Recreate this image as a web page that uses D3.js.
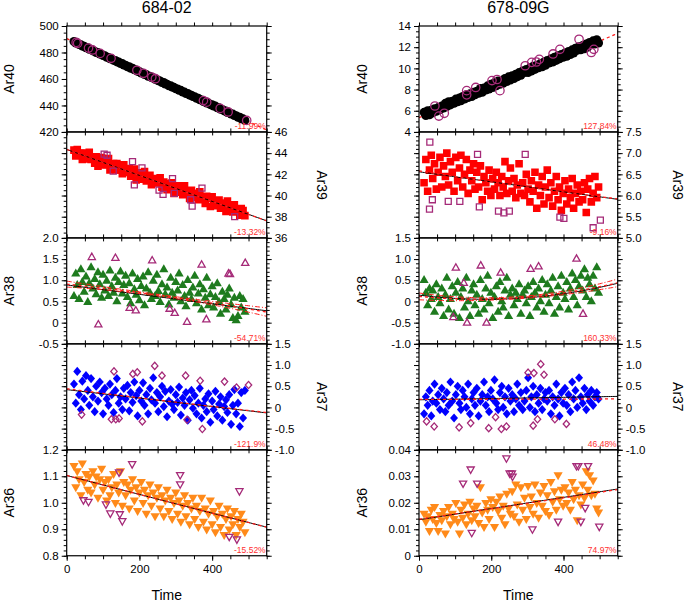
<!DOCTYPE html>
<html><head><meta charset="utf-8">
<script src="https://cdn.jsdelivr.net/npm/d3@7/dist/d3.min.js"></script>
<style>body{margin:0;background:#fff}</style>
</head><body>
<svg id="chart" width="685" height="602"></svg>
<script>
// ---------------- DATA ----------------
const samples = ["684-02", "678-09G"];
const isotopes = ["Ar40", "Ar39", "Ar38", "Ar37", "Ar36"];

const timesA = [20,25,29,34,39,43,48,53,58,62,67,72,77,81,86,91,96,100,105,110,115,119,124,129,134,138,143,148,153,157,162,167,172,176,181,186,191,195,200,205,210,214,219,224,229,233,238,243,248,252,257,262,267,271,276,281,286,290,295,300,305,309,314,319,324,328,333,338,343,347,352,357,362,366,371,376,381,385,390,395,400,404,409,414,419,423,428,433,438,442,447,452,457,461,466,471,476,480,485,490];
const timesB = [14,19,24,29,34,38,43,48,53,58,63,68,73,77,82,87,92,97,102,107,112,116,121,126,131,136,141,146,151,155,160,165,170,175,180,185,190,194,199,204,209,214,219,224,229,233,238,243,248,253,258,263,268,272,277,282,287,292,297,302,307,311,316,321,326,331,336,341,346,350,355,360,365,370,375,380,385,389,394,399,404,409,414,419,424,428,433,438,443,448,453,458,463,467,472,477,482,487,492,497];

// 684-02
const ar40A = [488.3,487.1,487.3,486.0,485.9,484.8,484.7,483.6,483.5,482.4,482.5,481.2,481.0,480.0,479.9,478.8,478.7,477.7,477.6,476.4,476.3,475.3,475.2,474.0,474.0,472.9,472.8,471.6,471.6,470.5,470.4,469.2,469.2,468.1,468.1,466.9,466.8,465.7,465.6,464.5,464.4,463.4,463.3,462.1,462.0,461.0,460.9,459.7,459.6,458.6,458.5,457.3,457.3,456.2,456.1,454.9,454.9,453.8,453.7,452.6,452.5,451.4,451.4,450.2,450.1,449.0,449.0,447.8,447.8,446.7,446.6,445.4,445.4,444.3,444.2,443.0,443.0,441.9,441.8,440.6,440.6,439.5,439.5,438.2,438.2,437.1,437.0,435.9,435.8,434.7,434.6,433.5,433.5,432.4,432.3,431.1,431.1,430.0,429.9,428.8];
const ar39A = [44.28,43.74,44.35,43.87,43.99,43.40,44.00,43.70,43.46,44.07,43.41,43.53,43.05,43.66,42.76,43.41,43.59,42.88,43.18,42.94,43.48,42.41,42.83,43.01,42.41,43.02,42.42,42.60,42.05,42.91,42.48,42.18,42.54,41.83,42.13,42.49,41.47,42.14,41.84,42.08,41.54,42.27,41.37,41.66,41.90,41.01,41.55,41.19,41.61,41.20,41.68,40.78,41.26,41.03,40.55,41.14,40.72,41.21,40.19,40.73,40.91,40.32,40.62,40.08,40.92,40.27,40.45,39.73,40.50,40.10,39.85,40.21,39.61,40.34,39.68,39.80,39.26,39.93,39.75,38.97,39.87,39.34,39.48,39.03,39.57,38.80,39.10,39.28,38.50,39.47,38.69,38.93,38.45,39.12,38.52,38.64,38.15,38.77,38.58,38.10];
const ar38A = [0.62,1.15,0.88,0.55,1.25,0.95,0.72,1.08,0.48,0.92,1.30,0.80,1.02,0.66,1.18,0.90,0.58,1.12,0.75,0.98,0.62,1.22,0.85,0.70,1.05,0.50,0.95,1.20,0.68,0.88,1.10,0.60,0.92,0.45,1.15,0.78,0.65,1.02,0.52,0.86,1.08,0.40,0.80,1.18,0.70,0.55,0.98,0.62,1.12,0.74,0.48,0.90,1.25,0.66,0.82,0.42,1.05,0.70,0.58,0.95,0.75,1.15,0.50,0.88,0.62,0.38,1.00,0.70,0.55,0.82,1.10,0.45,0.68,0.90,0.30,0.78,0.58,1.05,0.40,0.66,0.85,0.35,0.60,0.92,0.48,0.20,0.72,0.55,0.30,0.65,0.80,0.42,0.10,0.58,0.05,0.15,0.62,0.35,0.55,0.25];
const ar37A = [0.55,0.10,0.85,0.30,-0.05,0.62,0.20,0.75,0.40,0.05,0.68,0.25,-0.10,0.50,0.15,0.60,0.35,-0.15,0.45,0.20,0.05,0.55,0.30,-0.12,0.40,0.68,0.10,0.25,-0.05,0.45,0.20,0.52,-0.08,0.35,0.12,0.60,0.28,-0.20,0.40,0.15,0.58,0.05,0.30,-0.15,0.45,0.18,0.70,0.10,0.35,-0.10,0.25,0.50,0.02,0.38,-0.22,0.15,0.42,0.08,-0.05,0.30,0.12,0.48,-0.18,0.22,0.05,0.35,-0.30,0.18,0.40,-0.02,0.28,-0.15,0.10,0.45,-0.25,0.05,0.20,-0.10,0.32,-0.35,0.15,-0.05,0.38,-0.20,0.08,0.25,-0.30,0.02,0.18,-0.12,0.30,-0.40,0.05,0.42,-0.15,0.10,-0.45,0.35,-0.25,0.40];
const ar36A = [1.14,1.06,1.12,1.09,1.03,1.15,1.08,1.11,1.05,1.10,1.04,1.12,1.07,1.10,1.02,1.09,1.13,1.05,1.08,1.01,1.09,1.03,1.06,1.11,1.00,1.07,1.04,1.12,0.99,1.08,1.03,1.07,0.98,1.05,1.09,1.01,1.06,0.97,1.04,1.08,1.00,1.05,0.96,1.03,1.07,0.99,1.04,0.95,1.02,1.06,0.98,1.03,0.95,1.01,1.05,0.97,1.02,0.94,1.00,1.04,0.96,1.01,0.93,0.99,1.03,0.95,1.00,0.92,0.98,1.02,0.94,0.99,0.91,0.97,1.02,0.93,0.98,0.90,0.96,1.01,0.92,0.97,0.89,0.95,0.99,0.91,0.96,0.88,0.94,0.98,0.90,0.95,0.92,0.97,0.88,0.94,0.91,0.96,0.93,0.89];

// 678-09G
const ar40B = [5.85,5.55,6.00,5.62,6.05,5.80,6.20,5.95,6.30,6.10,6.45,6.25,6.70,6.40,6.85,6.55,6.90,6.70,7.10,6.85,7.20,6.95,7.35,7.10,7.50,7.25,7.60,7.35,7.75,7.50,7.85,7.65,8.10,7.75,8.15,7.95,8.35,8.05,8.50,8.20,8.65,8.35,8.80,8.50,8.80,8.60,9.05,8.75,9.20,8.90,9.30,9.05,9.45,9.20,9.60,9.35,9.75,9.60,9.90,9.60,10.05,9.75,10.20,9.90,10.30,10.05,10.45,10.15,10.60,10.30,10.75,10.50,10.90,10.60,11.05,10.75,11.20,10.90,11.30,11.05,11.45,11.15,11.60,11.30,11.75,11.45,11.90,11.70,12.05,11.75,12.15,11.85,12.30,12.00,12.45,12.25,12.60,12.30,12.70,12.40];
const ar39B = [6.30,6.85,6.10,6.60,6.95,6.40,6.75,6.15,6.55,6.90,6.20,6.70,6.45,7.00,6.25,6.80,6.55,6.10,6.90,6.35,6.65,6.95,6.20,6.50,6.85,6.05,6.60,6.35,6.75,6.15,6.55,6.20,6.70,5.90,6.45,6.30,6.10,6.60,6.00,6.40,6.15,6.55,6.30,6.00,6.45,6.20,6.80,6.05,6.35,6.65,6.10,6.40,5.95,6.25,6.75,6.05,6.30,6.00,6.50,6.15,5.85,6.35,6.10,6.55,5.70,6.25,6.00,6.45,5.80,6.20,6.60,5.95,6.30,5.75,6.10,6.45,5.90,6.20,5.65,6.05,6.35,5.80,6.15,5.95,6.40,5.70,6.05,6.25,5.85,6.10,5.90,6.30,5.60,6.15,6.40,5.85,6.05,6.45,5.95,6.20];
const ar38B = [0.50,0.20,-0.10,0.30,0.05,0.25,-0.25,0.40,0.10,-0.05,0.30,-0.35,0.15,0.55,-0.20,0.05,0.35,-0.30,0.20,0.45,-0.40,0.10,0.30,-0.15,0.55,0.00,-0.35,0.25,0.40,-0.10,0.15,-0.30,0.50,0.05,-0.20,0.30,0.60,-0.05,0.20,-0.40,0.10,0.35,-0.25,0.45,0.00,-0.15,0.25,0.55,-0.35,0.15,0.30,-0.10,0.20,0.05,0.40,-0.30,0.15,0.25,-0.05,0.35,-0.35,0.10,0.45,0.20,-0.15,0.30,0.00,0.50,-0.25,0.15,0.40,-0.05,0.25,0.55,-0.30,0.10,0.35,-0.15,0.60,0.20,0.05,0.45,-0.20,0.30,0.65,0.10,0.50,-0.10,0.35,0.60,0.25,0.75,0.10,0.55,0.40,0.00,0.60,0.30,0.80,0.20];
const ar37B = [-0.15,0.25,0.05,0.40,-0.20,0.15,0.55,0.10,0.30,-0.05,0.45,0.20,-0.10,0.35,0.05,0.60,0.15,-0.25,0.30,0.50,0.10,-0.05,0.40,0.25,0.00,0.55,-0.15,0.20,0.35,0.05,0.45,-0.20,0.15,0.30,0.60,0.05,0.25,-0.10,0.40,0.20,0.65,0.10,-0.05,0.35,0.50,0.00,0.25,-0.15,0.45,0.15,0.30,-0.10,0.20,0.55,0.05,0.35,-0.05,0.15,0.40,0.70,0.00,0.25,0.50,-0.10,0.30,0.10,0.45,-0.05,0.20,0.35,0.15,0.40,-0.15,0.25,0.05,0.55,0.20,-0.20,0.35,0.10,0.45,0.05,0.30,-0.10,0.60,0.20,0.40,0.00,0.70,0.25,0.10,0.45,-0.05,0.30,0.15,0.40,0.05,0.25,0.35,0.20];
const ar36B = [0.0160,0.0130,0.0150,0.0095,0.0175,0.0140,0.0185,0.0125,0.0095,0.0155,0.0135,0.0170,0.0085,0.0150,0.0185,0.0120,0.0160,0.0140,0.0200,0.0130,0.0085,0.0175,0.0145,0.0195,0.0120,0.0160,0.0205,0.0135,0.0180,0.0150,0.0190,0.0125,0.0260,0.0165,0.0110,0.0200,0.0175,0.0140,0.0215,0.0185,0.0110,0.0205,0.0170,0.0225,0.0145,0.0190,0.0120,0.0235,0.0180,0.0160,0.0245,0.0150,0.0270,0.0195,0.0130,0.0260,0.0175,0.0220,0.0140,0.0265,0.0185,0.0225,0.0160,0.0270,0.0200,0.0145,0.0240,0.0190,0.0265,0.0170,0.0230,0.0155,0.0280,0.0205,0.0245,0.0175,0.0305,0.0215,0.0250,0.0190,0.0260,0.0200,0.0240,0.0175,0.0280,0.0215,0.0250,0.0135,0.0230,0.0195,0.0270,0.0220,0.0320,0.0250,0.0305,0.0230,0.0285,0.0235,0.0180,0.0165];

// rejected (open) points: times and values
const out40A_t = [26,30,60,71,92,122,193,211,234,244,376,385,422,444,495];
const out40A_v = [487.6,486.9,483.3,481.9,479.3,475.6,466.6,464.3,461.4,460.2,443.7,442.5,437.8,435.1,428.7];
const out39A_t = [103,111,128,181,186,207,254,265,291,296,341,345,372,462];
const out39A_v = [43.9,43.8,42.3,43.2,41.0,42.6,40.5,40.1,41.6,40.2,39.6,39.0,40.7,38.0];
const out38A_t = [69,87,134,173,190,235,283,297,331,371,384,445,449,491];
const out38A_v = [1.54,-0.05,1.52,0.34,0.28,1.46,0.32,0.22,0.01,1.36,0.07,1.15,1.14,1.40];
const out37A_t = [41,123,130,135,144,182,194,208,242,262,327,331,367,373,434,467,500];
const out37A_v = [-0.17,-0.28,0.85,-0.28,-0.26,0.79,0.83,-0.33,0.98,0.75,0.75,-0.29,0.63,-0.51,0.61,0.47,0.53];
const out36A_t = [46,60,108,120,144,146,153,180,312,312,447,468,475];
const out36A_v = [1.011,1.005,0.995,0.961,1.116,0.958,0.932,1.147,1.106,1.071,0.873,0.863,1.045];

const out40B_t = [44,55,70,132,132,157,202,216,224,294,312,325,333,371,390,443,477,484];
const out40B_v = [6.45,5.5,5.76,7.9,7.5,8.2,8.85,8.95,7.9,10.25,10.57,10.6,10.85,11.36,11.8,12.75,11.5,11.8];
const out39B_t = [30,29,37,81,113,162,167,220,235,250,294,390,401,482,502];
const out39B_v = [7.26,5.68,5.90,5.86,5.86,6.97,5.73,5.63,5.59,5.63,6.97,5.49,5.46,5.24,5.42];
const out38B_t = [95,102,124,133,171,187,226,309,331,436,454];
const out38B_v = [-0.38,0.79,0.43,-0.51,0.84,-0.51,0.67,0.76,0.82,1.00,-0.30];
const out37B_t = [21,42,111,143,193,212,228,242,302,316,318,328,337,346,376,408];
const out37B_v = [-0.33,-0.45,-0.47,-0.37,-0.49,-0.23,-0.51,-0.45,0.82,-0.43,0.81,-0.28,1.02,0.77,-0.28,-0.39];
const out36B_t = [122,143,146,161,242,251,257,259,314,385,436,441,448,460,468,499];
const out36B_v = [0.0274,0.0327,0.0088,0.0274,0.0369,0.0312,0.0312,0.0300,0.0101,0.0130,0.0340,0.0340,0.0130,0.0182,0.0340,0.0111];

// fitted curves: values at time 0, 275, 550
const fitBlackA = [null,[44.35,40.98,37.61],[0.89,0.585,0.28],[0.42,0.145,-0.13],[1.103,1.005,0.908]];
const fitRedA   = [[490.5,456.0,421.5],[44.35,40.98,37.61],[0.91,0.62,0.25],[0.44,0.15,-0.12],[1.103,1.005,0.908]];
const bandA     = [null,null,[0.07,0.02,0.10],null,null];
const fitBlackB = [null,[6.56,6.235,5.91],[0.15,0.074,0.43],[0.18,0.22,0.26],[0.0136,0.0194,0.0252]];
const fitRedB   = [[5.35,9.33,13.3],[6.58,6.23,5.92],[0.12,0.09,0.44],[0.19,0.195,0.20],[0.0138,0.0193,0.0250]];
const bandB     = [null,null,[0.08,0.025,0.09],null,null];

const pctA = ["-11.99%","-13.32%","-54.71%","-121.9%","-15.52%"];
const pctB = ["127.84%","-9.16%","160.33%","46.48%","74.97%"];

const yDomA = [[420,500],[36,46],[-0.5,2.0],[-1.0,1.5],[0.8,1.2]];
const yTicksA = [[420,440,460,480,500],[36,38,40,42,44,46],[-0.5,0,0.5,1,1.5,2],[-1,-0.5,0,0.5,1,1.5],[0.8,0.9,1.0,1.1,1.2]];
const yLabelsA = [["420","440","460","480","500"],["36","38","40","42","44","46"],["-0.5","0","0.5","1.0","1.5","2.0"],["-1.0","-0.5","0","0.5","1.0","1.5"],["0.8","0.9","1.0","1.1","1.2"]];
const yMinorA = [5,0.5,0.1,0.1,0.02];
const yDomB = [[4,14],[5,7.5],[-1,1.5],[-1,1.5],[0,0.04]];
const yTicksB = [[4,6,8,10,12,14],[5,5.5,6,6.5,7,7.5],[-1,-0.5,0,0.5,1,1.5],[-1,-0.5,0,0.5,1,1.5],[0,0.01,0.02,0.03,0.04]];
const yLabelsB = [["4","6","8","10","12","14"],["5.0","5.5","6.0","6.5","7.0","7.5"],["-1.0","-0.5","0","0.5","1.0","1.5"],["-1.0","-0.5","0","0.5","1.0","1.5"],["0","0.01","0.02","0.03","0.04"]];
const yMinorB = [0.5,0.1,0.1,0.1,0.002];

const xTickLabels = [0,200,400];
const timeDomain = [0,550];

// ---------------- DRAWING ----------------
const FONT = "'Liberation Sans', Arial, Helvetica, sans-serif";
const svg = d3.select("#chart");
const colX = [66.7, 419], colW = [200, 198.7];
const top0 = 26, ph = 105.95;
const markKind = ["circle","square","triUp","diamond","triDown"];
const markFill = ["#000000","#ff0000","#1e7b1e","#0000ff","#ff8a1a"];
const OUTC = "#a52a78";
const PCTC = "#ff3030";

function shapePath(kind, filled) {
  if (kind === "square") { const s = filled ? 3.8 : 3; return `M${-s},${-s}h${2*s}v${2*s}h${-2*s}Z`; }
  if (kind === "triUp") { const w = filled ? 4.6 : 3.6, h = filled ? 8 : 6.4; return `M0,${-h*2/3}L${w},${h/3}L${-w},${h/3}Z`; }
  if (kind === "triDown") { const w = filled ? 4.6 : 3.6, h = filled ? 8 : 6.4; return `M0,${h*2/3}L${w},${-h/3}L${-w},${-h/3}Z`; }
  if (kind === "diamond") { const a = filled ? 4.6 : 3.6, b = filled ? 4.0 : 3.2; return `M0,${-a}L${b},0L0,${a}L${-b},0Z`; }
  return null;
}
function quad(v, t) {
  const t0 = 0, t1 = 275, t2 = 550;
  const L0 = (t - t1) * (t - t2) / ((t0 - t1) * (t0 - t2));
  const L1 = (t - t0) * (t - t2) / ((t1 - t0) * (t1 - t2));
  const L2 = (t - t0) * (t - t1) / ((t2 - t0) * (t2 - t1));
  return v[0] * L0 + v[1] * L1 + v[2] * L2;
}

const cols = [
  { times: timesA, series: [ar40A, ar39A, ar38A, ar37A, ar36A],
    outT: [out40A_t, out39A_t, out38A_t, out37A_t, out36A_t], outV: [out40A_v, out39A_v, out38A_v, out37A_v, out36A_v],
    fitB: fitBlackA, fitR: fitRedA, band: bandA, pct: pctA, dom: yDomA, ticks: yTicksA, labels: yLabelsA, minor: yMinorA,
    titleX: 14, rightTitleX: 317 },
  { times: timesB, series: [ar40B, ar39B, ar38B, ar37B, ar36B],
    outT: [out40B_t, out39B_t, out38B_t, out37B_t, out36B_t], outV: [out40B_v, out39B_v, out38B_v, out37B_v, out36B_v],
    fitB: fitBlackB, fitR: fitRedB, band: bandB, pct: pctB, dom: yDomB, ticks: yTicksB, labels: yLabelsB, minor: yMinorB,
    titleX: 367, rightTitleX: 673 }
];

let clipId = 0;
cols.forEach((c, ci) => {
  const x0 = colX[ci], w = colW[ci];
  const x = d3.scaleLinear().domain(timeDomain).range([x0, x0 + w]);

  svg.append("text").attr("x", x0 + w / 2).attr("y", 13).attr("text-anchor", "middle")
    .attr("font-family", FONT).attr("font-size", 16).text(samples[ci]);

  isotopes.forEach((iso, i) => {
    const yt = top0 + ph * i, yb = yt + ph;
    const y = d3.scaleLinear().domain(c.dom[i]).range([yb, yt]);
    const g = svg.append("g");
    const id = "clip" + (clipId++);
    svg.append("clipPath").attr("id", id).append("rect").attr("x", x0).attr("y", yt).attr("width", w).attr("height", ph);

    const lineGen = v => d3.line().x(t => x(t)).y(t => y(quad(v, t)))(d3.range(0, 551, 5));
    const drawFits = () => {
      const lg = g.append("g").attr("clip-path", `url(#${id})`);
      if (c.fitB[i]) lg.append("path").attr("d", lineGen(c.fitB[i])).attr("fill", "none").attr("stroke", "#000").attr("stroke-width", 1);
      lg.append("path").attr("d", lineGen(c.fitR[i])).attr("fill", "none").attr("stroke", "#ff1a1a")
        .attr("stroke-width", 1.3).attr("stroke-dasharray", "3,3");
      if (c.band[i]) {
        [1, -1].forEach(sgn => {
          const d = d3.line().x(t => x(t)).y(t => y(quad(c.fitR[i], t) + sgn * quad(c.band[i], t)))(d3.range(0, 551, 5));
          lg.append("path").attr("d", d).attr("fill", "none").attr("stroke", "#ff1a1a")
            .attr("stroke-width", 1).attr("stroke-dasharray", "5,2,1,2");
        });
      }
    };

    if (i === 0) drawFits();

    const pts = c.times.map((t, k) => [t, c.series[i][k]]).filter(p => p[1] !== undefined);
    const kind = markKind[i];
    const pg = g.append("g").attr("clip-path", `url(#${id})`);
    if (kind === "circle") {
      pg.selectAll("circle").data(pts).join("circle").attr("cx", d => x(d[0])).attr("cy", d => y(d[1]))
        .attr("r", 4.5).attr("fill", markFill[i]);
    } else {
      pg.selectAll("path").data(pts).join("path").attr("d", shapePath(kind, true))
        .attr("transform", d => `translate(${x(d[0])},${y(d[1])})`).attr("fill", markFill[i]);
    }

    if (i !== 0) drawFits();

    const ops = c.outT[i].map((t, k) => [t, c.outV[i][k]]);
    const og = g.append("g").attr("clip-path", `url(#${id})`);
    if (kind === "circle") {
      og.selectAll("circle").data(ops).join("circle").attr("cx", d => x(d[0])).attr("cy", d => y(d[1]))
        .attr("r", 4.2).attr("fill", "none").attr("stroke", OUTC).attr("stroke-width", 1.3);
    } else {
      og.selectAll("path").data(ops).join("path").attr("d", shapePath(kind, false))
        .attr("transform", d => `translate(${x(d[0])},${y(d[1])})`).attr("fill", "none")
        .attr("stroke", OUTC).attr("stroke-width", 1.3);
    }

    g.append("rect").attr("x", x0).attr("y", yt).attr("width", w).attr("height", ph)
      .attr("fill", "none").attr("stroke", "#000").attr("stroke-width", 1.2);

    const labelLeft = (i % 2 === 0);
    const minorVals = d3.range(c.dom[i][0], c.dom[i][1] + c.minor[i] / 2, c.minor[i]);
    const mkAxis = (side, major, labels) => {
      const ax = (side === "left" ? d3.axisLeft(y) : d3.axisRight(y));
      return ax.tickValues(major ? c.ticks[i] : minorVals).tickSize(major ? 5 : 3).tickPadding(3)
        .tickFormat((d, k) => (major && labels) ? c.labels[i][k] : "");
    };
    [["left", x0], ["right", x0 + w]].forEach(([side, px]) => {
      const withLabels = (side === "left") === labelLeft;
      [false, true].forEach(major => {
        const ag = g.append("g").attr("transform", `translate(${px},0)`).call(mkAxis(side, major, withLabels));
        ag.select(".domain").remove();
        ag.selectAll("line").attr("stroke", "#000").attr("stroke-width", 1);
        ag.selectAll("text").attr("font-family", FONT).attr("font-size", 11.5).attr("fill", "#000");
      });
    });

    const xt = d3.range(0, 551, 50);
    const bottomAx = d3.axisBottom(x).tickValues(i === 4 ? xTickLabels : xt).tickSize(i === 4 ? 5 : 3.5)
      .tickPadding(4).tickFormat(d => i === 4 ? String(d) : "");
    const bg = g.append("g").attr("transform", `translate(0,${yb})`).call(bottomAx);
    bg.select(".domain").remove();
    bg.selectAll("line").attr("stroke", "#000");
    bg.selectAll("text").attr("font-family", FONT).attr("font-size", 11.5).attr("fill", "#000");
    if (i === 4) {
      const bm = g.append("g").attr("transform", `translate(0,${yb})`)
        .call(d3.axisBottom(x).tickValues(xt).tickSize(3.5).tickFormat(""));
      bm.select(".domain").remove(); bm.selectAll("line").attr("stroke", "#000");
    }
    const tg = g.append("g").attr("transform", `translate(0,${yt})`)
      .call(d3.axisTop(x).tickValues(xt).tickSize(3.5).tickFormat(""));
    tg.select(".domain").remove(); tg.selectAll("line").attr("stroke", "#000");

    g.append("text").attr("x", x0 + w - 1).attr("y", yb - 3).attr("text-anchor", "end")
      .attr("font-family", FONT).attr("font-size", 8.5).attr("fill", PCTC).text(c.pct[i]);

    const yc = (yt + yb) / 2;
    if (labelLeft) {
      g.append("text").attr("transform", `translate(${c.titleX},${yc}) rotate(-90)`).attr("text-anchor", "middle")
        .attr("font-family", FONT).attr("font-size", 14).text(iso);
    } else {
      g.append("text").attr("transform", `translate(${c.rightTitleX},${yc}) rotate(90)`).attr("text-anchor", "middle")
        .attr("font-family", FONT).attr("font-size", 14).text(iso);
    }
  });

  svg.append("text").attr("x", x0 + w / 2).attr("y", 600).attr("text-anchor", "middle")
    .attr("font-family", FONT).attr("font-size", 14).text("Time");
});
</script>
</body></html>
